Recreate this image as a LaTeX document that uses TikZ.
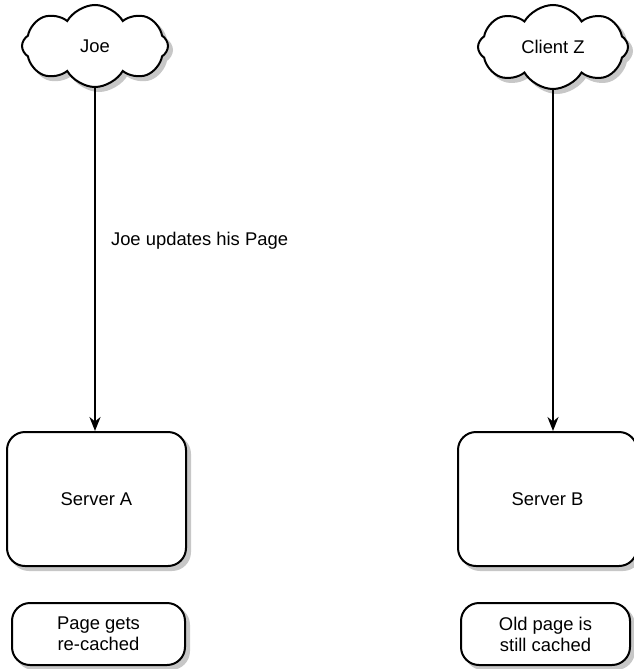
\documentclass[tikz,border=0pt]{standalone}
\usepackage{fontspec}
\setmainfont{Liberation Sans}
\usepackage{tikz}
\usetikzlibrary{positioning, arrows.meta, shapes.symbols, backgrounds}

\tikzset{
  cloudnode/.style={cloud, cloud puffs=8, cloud puff arc=120, aspect=1.9, draw, line width=1pt,
    fill=white, inner sep=0pt},
  serverbox/.style={draw, line width=1pt, rounded corners=9pt, fill=white,
    minimum width=89.5pt, minimum height=67pt},
  notebox/.style={draw, line width=1pt, rounded corners=9pt, fill=white,
    minimum height=31pt, align=center},
  ghost/.style={fill=black!22, draw=black!22},
  flow/.style={-{Stealth[length=7pt, width=5.5pt]}, line width=1pt},
}

\begin{document}
\begin{tikzpicture}[x=0.5pt, y=-0.5pt, font=\fontsize{9.2}{10.5}\selectfont]
\useasboundingbox (0,0) rectangle (633,669);

% clients
\node[cloudnode, minimum width=73pt, minimum height=41pt] (joe) at (95,46) {Joe};
\node[cloudnode, minimum width=75pt, minimum height=42pt] (clientz) at (553,47) {Client Z};

% servers
\node[serverbox] (serverA) at (96.5,499) {Server A};
\node[serverbox] (serverB) at (547.5,499) {Server B};

% cache state
\node[notebox, minimum width=86.5pt] (cacheA) at (98.5,634) {Page gets\\re-cached};
\node[notebox, minimum width=84.5pt] (cacheB) at (545.5,634) {Old page is\\still cached};

% shadows
\begin{scope}[on background layer]
\node[cloudnode, ghost, minimum width=73pt, minimum height=41pt] (joeshade) at ([shift={(2pt,-2pt)}]joe.center) {};
\node[cloudnode, ghost, minimum width=75pt, minimum height=42pt] (clientzshade) at ([shift={(2pt,-2pt)}]clientz.center) {};
\node[serverbox, ghost] (serverAshade) at ([shift={(2pt,-2pt)}]serverA.center) {};
\node[serverbox, ghost] (serverBshade) at ([shift={(2pt,-2pt)}]serverB.center) {};
\node[notebox, ghost, minimum width=86.5pt] (cacheAshade) at ([shift={(2pt,-2pt)}]cacheA.center) {};
\node[notebox, ghost, minimum width=84.5pt] (cacheBshade) at ([shift={(2pt,-2pt)}]cacheB.center) {};
\end{scope}

% requests
\draw[flow] (joe) -- (joe |- serverA.north);
\draw[flow] (clientz) -- (clientz |- serverB.north);
\node[anchor=west] (update) at (104,241) {Joe updates his Page};
\end{tikzpicture}
\end{document}
